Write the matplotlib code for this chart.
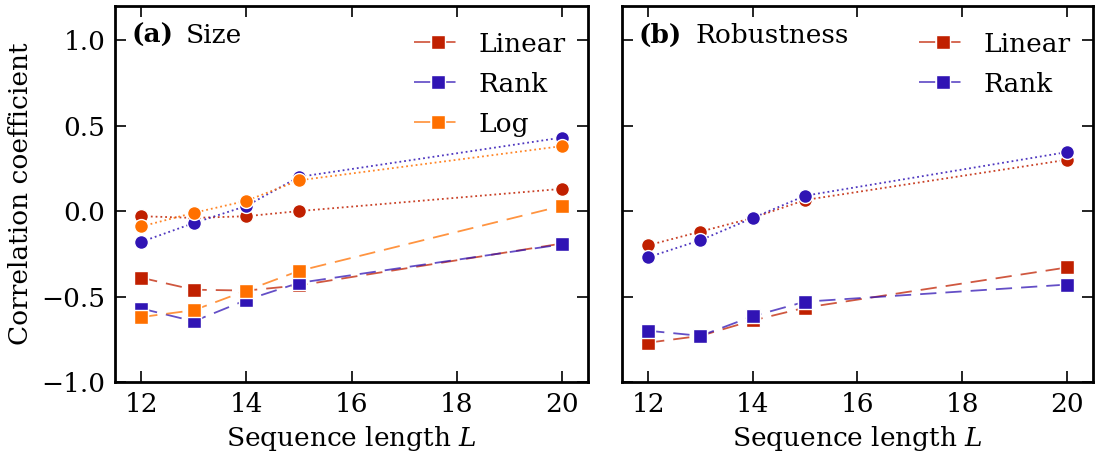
import matplotlib
matplotlib.use("Agg")
import matplotlib.pyplot as plt
from matplotlib.colors import to_rgb

plt.rcParams['font.family'] = ['DejaVu Serif']
plt.rcParams['mathtext.fontset'] = 'dejavuserif'

L = [12, 13, 14, 15, 20]

# (a) Size: circles (dotted) and squares (dashed)
size_lin_circ = [-0.03, -0.04, -0.03, 0.00, 0.13]
size_rank_circ = [-0.18, -0.07, 0.03, 0.20, 0.43]
size_log_circ = [-0.09, -0.01, 0.06, 0.18, 0.38]
size_lin_sq = [-0.39, -0.46, -0.465, -0.435, -0.19]
size_rank_sq = [-0.57, -0.645, -0.52, -0.42, -0.195]
size_log_sq = [-0.62, -0.58, -0.465, -0.35, 0.03]

# (b) Robustness
rob_lin_circ = [-0.20, -0.12, -0.04, 0.065, 0.30]
rob_rank_circ = [-0.27, -0.17, -0.04, 0.09, 0.345]
rob_lin_sq = [-0.77, -0.73, -0.64, -0.565, -0.33]
rob_rank_sq = [-0.70, -0.73, -0.615, -0.53, -0.43]

RED = '#C02000'
BLUE = '#3014B4'
ORANGE = '#FF7000'

yticks = [-1.0, -0.5, 0.0, 0.5, 1.0]
xticks = [12, 14, 16, 18, 20]

FS = 19

def lighten(c, a=0.72):
    r, g, b = to_rgb(c)
    return (1 - a + a * r, 1 - a + a * g, 1 - a + a * b)

fig = plt.figure(figsize=(11.02, 4.55), dpi=100)
ax1 = fig.add_axes([115/1102, 1-382/455, 473/1102, 376/455])
ax2 = fig.add_axes([622/1102, 1-382/455, 471/1102, 376/455])

def draw(ax, circ, sq, colors, labels):
    for y, c in zip(circ, colors):
        ax.plot(L, y, ls=':', lw=1.3, color=c, alpha=0.85, zorder=2)
        ax.plot(L, y, ls='none', marker='o', ms=10, mfc=c, mec='white',
                mew=1.0, zorder=3)
    handles = []
    for y, c, lab in zip(sq, colors, labels):
        ax.plot(L, y, ls=(0, (9, 5)), lw=1.3, color=c, alpha=0.75, zorder=2)
        ax.plot(L, y, ls='none', marker='s', ms=9.5, mfc=c, mec='white',
                mew=1.0, zorder=3)
        h, = ax.plot([], [], ls=(0, (9, 5)), lw=1.3, color=lighten(c),
                     marker='s', ms=9.5, mfc=c, mec='white', mew=1.0, label=lab)
        handles.append(h)
    return handles

h1 = draw(ax1, [size_lin_circ, size_rank_circ, size_log_circ],
          [size_lin_sq, size_rank_sq, size_log_sq],
          [RED, BLUE, ORANGE], ['Linear', 'Rank', 'Log'])
h2 = draw(ax2, [rob_lin_circ, rob_rank_circ],
          [rob_lin_sq, rob_rank_sq],
          [RED, BLUE], ['Linear', 'Rank'])

for ax, hs in ((ax1, h1), (ax2, h2)):
    ax.set_xlim(11.5, 20.5)
    ax.set_ylim(-1.0, 1.2)
    ax.set_xticks(xticks)
    ax.set_yticks(yticks)
    ax.tick_params(direction='in', length=8, width=1.2, top=True, right=True,
                   labelsize=FS, pad=7)
    for s in ax.spines.values():
        s.set_linewidth(2.0)
    ax.set_xlabel('Sequence length $L$', fontsize=FS, labelpad=5)
    leg = ax.legend(handles=hs, loc='upper right', frameon=False, fontsize=FS,
                    handlelength=1.85, handletextpad=0.6, labelspacing=0.57,
                    borderaxespad=0.0, bbox_to_anchor=(0.975, 0.96))

ax1.yaxis.set_major_formatter(matplotlib.ticker.FuncFormatter(
    lambda v, p: f'{v:.1f}'.replace('-', '\u2212')))
ax2.set_yticklabels([])
ax1.set_ylabel('Correlation coefficient', fontsize=FS, labelpad=6)

ax1.text(0.035, 0.955, '(a)', transform=ax1.transAxes, fontsize=FS,
         fontweight='bold', va='top', ha='left')
ax1.text(0.15, 0.955, 'Size', transform=ax1.transAxes, fontsize=FS,
         va='top', ha='left')
ax2.text(0.035, 0.955, '(b)', transform=ax2.transAxes, fontsize=FS,
         fontweight='bold', va='top', ha='left')
ax2.text(0.155, 0.955, 'Robustness', transform=ax2.transAxes, fontsize=FS,
         va='top', ha='left')

fig.savefig('out.png', dpi=100)
